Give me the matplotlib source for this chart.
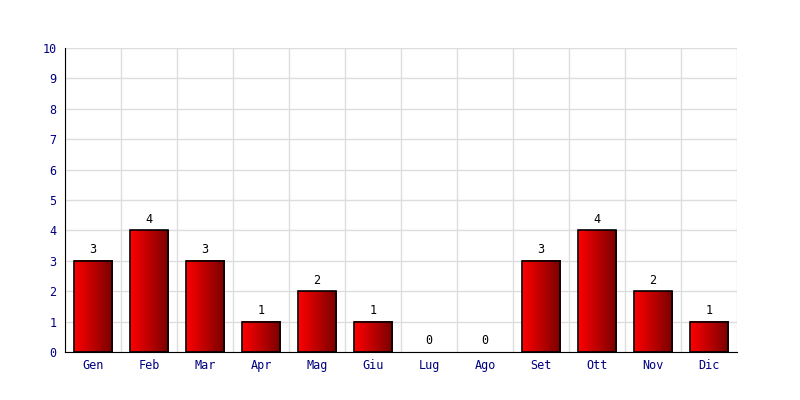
import numpy as np
import matplotlib
matplotlib.use("Agg")
import matplotlib.pyplot as plt
from matplotlib.colors import LinearSegmentedColormap

months = ["Gen", "Feb", "Mar", "Apr", "Mag", "Giu", "Lug", "Ago", "Set", "Ott", "Nov", "Dic"]
values = [3, 4, 3, 1, 2, 1, 0, 0, 3, 4, 2, 1]
yticks = list(range(0, 11))

plt.rcParams['font.family'] = ['DejaVu Sans Mono']

fig = plt.figure(figsize=(8, 4), dpi=100)
ax = fig.add_axes([0.08125, 0.12, 0.84, 0.76])

n = len(months)
ax.set_xlim(0, n)
ax.set_ylim(0, 10)

cmap = LinearSegmentedColormap.from_list("redgrad", ["#ff0000", "#780000"])
grad = np.linspace(0, 1, 256).reshape(1, -1)
bw = 0.68
for i, v in enumerate(values):
    x0 = i + 0.5 - bw / 2
    x1 = i + 0.5 + bw / 2
    if v > 0:
        ax.imshow(grad, cmap=cmap, extent=[x0, x1, 0, v], aspect='auto', zorder=2, interpolation='bilinear')
        ax.add_patch(plt.Rectangle((x0, 0), bw, v, fill=False, edgecolor='black', linewidth=1.2, zorder=3))
    ax.text(i + 0.5, v + 0.15, str(v), ha='center', va='bottom', fontsize=8.5, color='black', zorder=4)

ax.set_xlim(0, n)
ax.set_ylim(0, 10)
ax.set_xticks(np.arange(n) + 0.5)
ax.set_xticklabels(months)
ax.set_xticks(np.arange(0, n + 1), minor=True)
ax.set_yticks(yticks)
ax.tick_params(axis='both', which='both', length=0, colors='#000080', labelsize=8.5)
ax.tick_params(axis='x', pad=5)
ax.tick_params(axis='y', pad=6)
ax.grid(True, which='minor', axis='x', color='#dddddd', linewidth=1, zorder=0)
ax.grid(True, which='major', axis='y', color='#dddddd', linewidth=1, zorder=0)
ax.set_axisbelow(True)
for s in ['top', 'right']:
    ax.spines[s].set_visible(False)
ax.spines['left'].set_color('black')
ax.spines['bottom'].set_color('black')
ax.spines['left'].set_zorder(5)
ax.spines['bottom'].set_zorder(5)

fig.savefig("out.png", dpi=100)
